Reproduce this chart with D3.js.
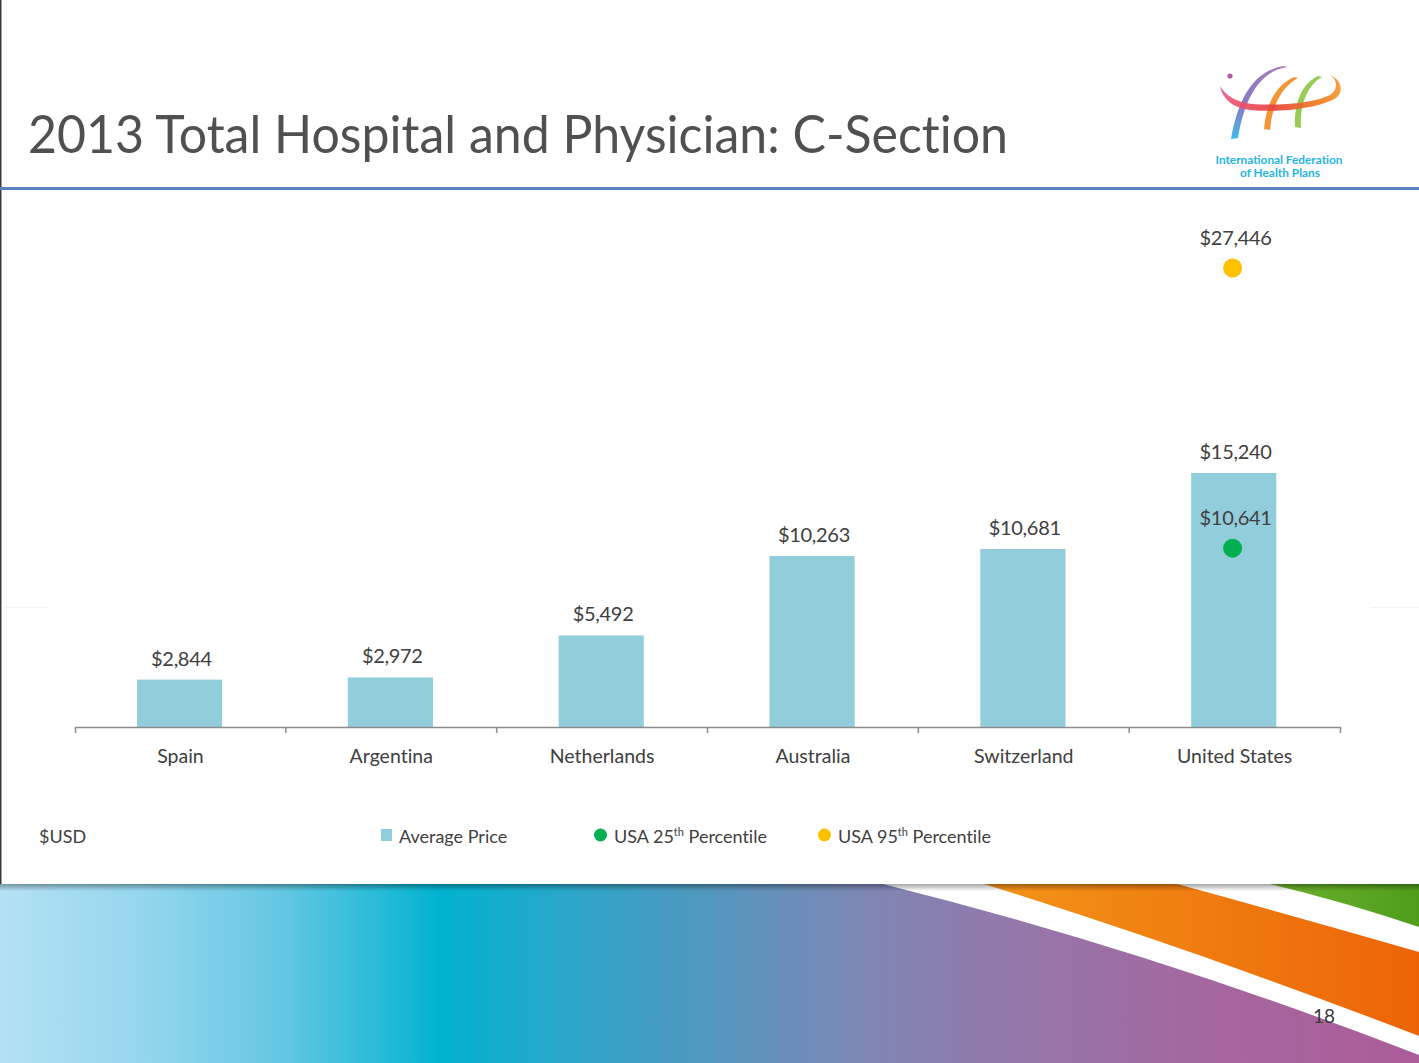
<!DOCTYPE html>
<html>
<head>
<meta charset="utf-8">
<script src="https://cdn.jsdelivr.net/npm/d3@7/dist/d3.min.js"></script>
<style>
  html, body { margin: 0; padding: 0; background: #fff; }
  svg { display: block; }
  text { font-family: Lato, "Open Sans", "DejaVu Sans", sans-serif; font-variant-ligatures: none; font-feature-settings: "liga" 0, "clig" 0, "dlig" 0; }
</style>
</head>
<body>
<svg id="chart" width="1419" height="1063"></svg>
<script>
// ---------- data ----------
const titleText = "2013 Total Hospital and Physician: C-Section";
const categories = ["Spain", "Argentina", "Netherlands", "Australia", "Switzerland", "United States"];
const averagePrice = [2844, 2972, 5492, 10263, 10681, 15240];
const usaP25 = [{ category: "United States", value: 10641 }];
const usaP95 = [{ category: "United States", value: 27446 }];
const yDomain = [0, 30000];
const unitLabel = "$USD";
const legendItems = [
  { label: "Average Price", sup: null, rest: null, kind: "square", color: "#92cddc" },
  { label: "USA 25", sup: "th", rest: " Percentile", kind: "dot", color: "#00b050" },
  { label: "USA 95", sup: "th", rest: " Percentile", kind: "dot", color: "#ffc000" }
];
const pageNumber = "18";

// ---------- setup ----------
const W = 1419, H = 1063;
const svg = d3.select("#chart");
const defs = svg.append("defs");
const textColor = "#404040";
const fmt = v => "$" + d3.format(",")(v);

// left slide border
svg.append("line").attr("x1", 0.75).attr("x2", 0.75).attr("y1", 0).attr("y2", 885)
  .attr("stroke", "#3a3a3a").attr("stroke-width", 1.5);

// title
const title = svg.append("text").attr("x", 28).attr("y", 153)
  .attr("font-size", 52).attr("fill", "#505050").text(titleText);
title.attr("textLength", 980).attr("lengthAdjust", "spacingAndGlyphs");

// title rule
svg.append("rect").attr("x", 0).attr("y", 187).attr("width", W).attr("height", 3).attr("fill", "#5784bf");

// faint edge lines
svg.append("line").attr("x1", 4).attr("x2", 48).attr("y1", 607.5).attr("y2", 607.5).attr("stroke", "#f3f3f3");
svg.append("line").attr("x1", 1370).attr("x2", 1419).attr("y1", 607.5).attr("y2", 607.5).attr("stroke", "#f3f3f3");

// ---------- logo ----------
const logo = svg.append("g");
const swGrad = defs.append("linearGradient").attr("id", "swoosh").attr("x1", "0").attr("x2", "1").attr("y1", "0").attr("y2", "0");
swGrad.append("stop").attr("offset", "0").attr("stop-color", "#ec5a8a");
swGrad.append("stop").attr("offset", "0.45").attr("stop-color", "#e8413a");
swGrad.append("stop").attr("offset", "0.8").attr("stop-color", "#f07a1f");
swGrad.append("stop").attr("offset", "1").attr("stop-color", "#f39a2c");
const pbGrad = defs.append("linearGradient").attr("id", "pb").attr("x1", "0").attr("x2", "0").attr("y1", "0").attr("y2", "1");
pbGrad.append("stop").attr("offset", "0").attr("stop-color", "#9b6bb4");
pbGrad.append("stop").attr("offset", "0.55").attr("stop-color", "#7a6cc0");
pbGrad.append("stop").attr("offset", "1").attr("stop-color", "#29b6e6");

logo.append("path").attr("d", "M1288,67 C1262,70 1245,95 1238,138 L1231,139 C1238,100 1252,72 1283,66 Z")
  .attr("fill", "url(#pb)").attr("opacity", 0.9);
logo.append("path").attr("d", "M1298,78 C1280,88 1272,108 1270,130 L1264,129 C1266,104 1276,85 1294,77 Z")
  .attr("fill", "#f28a1e").attr("opacity", 0.9);
logo.append("path").attr("d", "M1322,77 C1306,86 1300,106 1301,128 L1295,127 C1294,102 1302,84 1318,76 Z")
  .attr("fill", "#8cc63f").attr("opacity", 0.9);
logo.append("path")
  .attr("d", "M1220,86 C1222,98 1232,108 1250,110 C1280,113 1320,108 1336,98 C1344,92 1342,80 1330,75 C1338,80 1338,90 1330,95 C1314,103 1280,106 1252,104 C1236,102 1226,96 1220,86 Z")
  .attr("fill", "url(#swoosh)").attr("opacity", 0.92);
logo.append("circle").attr("cx", 1230).attr("cy", 76).attr("r", 2.6).attr("fill", "#b05fa8");
logo.append("text").attr("x", 1279).attr("y", 164).attr("text-anchor", "middle")
  .attr("font-size", 11).attr("font-weight", 700).attr("fill", "#25b4e3")
  .attr("textLength", 127).attr("lengthAdjust", "spacingAndGlyphs").text("International Federation");
logo.append("text").attr("x", 1280).attr("y", 177).attr("text-anchor", "middle")
  .attr("font-size", 11).attr("font-weight", 700).attr("fill", "#25b4e3")
  .attr("textLength", 80).attr("lengthAdjust", "spacingAndGlyphs").text("of Health Plans");

// ---------- chart ----------
const x = d3.scaleBand().domain(categories).range([75, 1340]).paddingInner(0).paddingOuter(0);
const y = d3.scaleLinear().domain(yDomain).range([727, 227]);
const bw = x.bandwidth();
const barData = categories.map((c, i) => ({ category: c, value: averagePrice[i] }));

const g = svg.append("g");

g.selectAll("rect.bar").data(barData).join("rect")
  .attr("class", "bar")
  .attr("x", d => x(d.category) + bw * 0.294)
  .attr("width", bw * 0.404)
  .attr("y", d => y(d.value))
  .attr("height", d => y(0) - y(d.value))
  .attr("fill", "#92cddc");

g.selectAll("text.barlabel").data(barData).join("text")
  .attr("class", "barlabel")
  .attr("x", d => x(d.category) + bw / 2 + 1)
  .attr("y", d => y(d.value) - 14)
  .attr("text-anchor", "middle").attr("font-size", 20).attr("fill", textColor)
  .attr("letter-spacing", -0.3)
  .text(d => fmt(d.value));

// axis
const axis = d3.axisBottom(x).tickSize(0).tickSizeOuter(6).tickPadding(30);
const axG = g.append("g").attr("transform", "translate(0,727)").call(axis);
axG.select(".domain").attr("stroke", "#8c8c8c").attr("stroke-width", 1.5);
axG.selectAll(".tick text").attr("font-size", 19.5).attr("fill", textColor)
  .attr("font-family", "Lato, 'Open Sans', sans-serif").attr("dy", "0.3em");
g.selectAll("line.btick").data(categories.slice(1)).join("line")
  .attr("class", "btick")
  .attr("x1", d => x(d)).attr("x2", d => x(d))
  .attr("y1", 727).attr("y2", 733)
  .attr("stroke", "#8c8c8c").attr("stroke-width", 1.5);

// points
function drawPoints(data, color) {
  g.selectAll(null).data(data).join("circle")
    .attr("cx", d => x(d.category) + bw / 2 - 2)
    .attr("cy", d => y(d.value) - 1.5)
    .attr("r", 9.5).attr("fill", color);
  g.selectAll(null).data(data).join("text")
    .attr("x", d => x(d.category) + bw / 2 + 1)
    .attr("y", d => y(d.value) - 24.5)
    .attr("text-anchor", "middle").attr("font-size", 20).attr("fill", textColor)
    .attr("letter-spacing", -0.3)
    .text(d => fmt(d.value));
}
drawPoints(usaP25, "#00b050");
drawPoints(usaP95, "#ffc000");

// ---------- legend ----------
svg.append("text").attr("x", 39).attr("y", 843).attr("font-size", 18).attr("fill", textColor).text(unitLabel);
const legendX = [381, 594, 818];
legendItems.forEach((it, i) => {
  const lx = legendX[i];
  if (it.kind === "square") {
    svg.append("rect").attr("x", lx).attr("y", 829).attr("width", 11).attr("height", 12).attr("fill", it.color);
  } else {
    svg.append("circle").attr("cx", lx + 6.5).attr("cy", 835).attr("r", 6.5).attr("fill", it.color);
  }
  const t = svg.append("text").attr("x", lx + (it.kind === "square" ? 18 : 20)).attr("y", 843)
    .attr("font-size", 18).attr("fill", textColor);
  t.append("tspan").text(it.label);
  if (it.sup) {
    t.append("tspan").attr("font-size", 11).attr("dy", -7).text(it.sup);
    t.append("tspan").attr("dy", 7).text(it.rest);
  }
});

// ---------- bottom banner ----------
const bTop = 884;
const bg = defs.append("linearGradient").attr("id", "banner").attr("x1", "0").attr("x2", "1").attr("y1", "0").attr("y2", "0");
[[0, "#b4e1f4"], [0.1, "#95d6ee"], [0.2, "#63c7e2"], [0.31, "#00b3d0"], [0.4, "#2aa6c9"],
 [0.5, "#5397be"], [0.61, "#7e86b4"], [0.71, "#9278aa"], [0.85, "#a5679f"], [1, "#ab5d99"]]
  .forEach(s => bg.append("stop").attr("offset", s[0]).attr("stop-color", s[1]));
svg.append("rect").attr("x", 0).attr("y", bTop).attr("width", W).attr("height", H - bTop).attr("fill", "url(#banner)");

const og = defs.append("linearGradient").attr("id", "orange").attr("x1", "0").attr("x2", "1").attr("y1", "0").attr("y2", "0");
og.append("stop").attr("offset", "0").attr("stop-color", "#f39419");
og.append("stop").attr("offset", "1").attr("stop-color", "#ec6406");
const gg = defs.append("linearGradient").attr("id", "green").attr("x1", "0").attr("x2", "1").attr("y1", "0").attr("y2", "0");
gg.append("stop").attr("offset", "0").attr("stop-color", "#6cb22e");
gg.append("stop").attr("offset", "1").attr("stop-color", "#4f9d1c");

svg.append("path").attr("d", `M883,${bTop} Q1151,951 1419,1055 L1419,1063 L1419,${bTop} Z`).attr("fill", "#ffffff");
svg.append("path").attr("d", `M984,${bTop} Q1201,952 1419,1036 L1419,${bTop} Z`).attr("fill", "url(#orange)");
svg.append("path").attr("d", `M1177,${bTop} Q1298,917 1419,952 L1419,${bTop} Z`).attr("fill", "#ffffff");
svg.append("path").attr("d", `M1270,${bTop} Q1345,902 1419,927 L1419,${bTop} Z`).attr("fill", "url(#green)");

const sh = defs.append("linearGradient").attr("id", "shadow").attr("x1", "0").attr("x2", "0").attr("y1", "0").attr("y2", "1");
sh.append("stop").attr("offset", "0").attr("stop-color", "#000").attr("stop-opacity", 0.35);
sh.append("stop").attr("offset", "1").attr("stop-color", "#000").attr("stop-opacity", 0);
svg.append("rect").attr("x", 0).attr("y", bTop).attr("width", W).attr("height", 7).attr("fill", "url(#shadow)");

svg.append("text").attr("x", 1324).attr("y", 1023).attr("text-anchor", "middle")
  .attr("font-size", 19).attr("fill", "#3a3a3a").text(pageNumber);
</script>
</body>
</html>
